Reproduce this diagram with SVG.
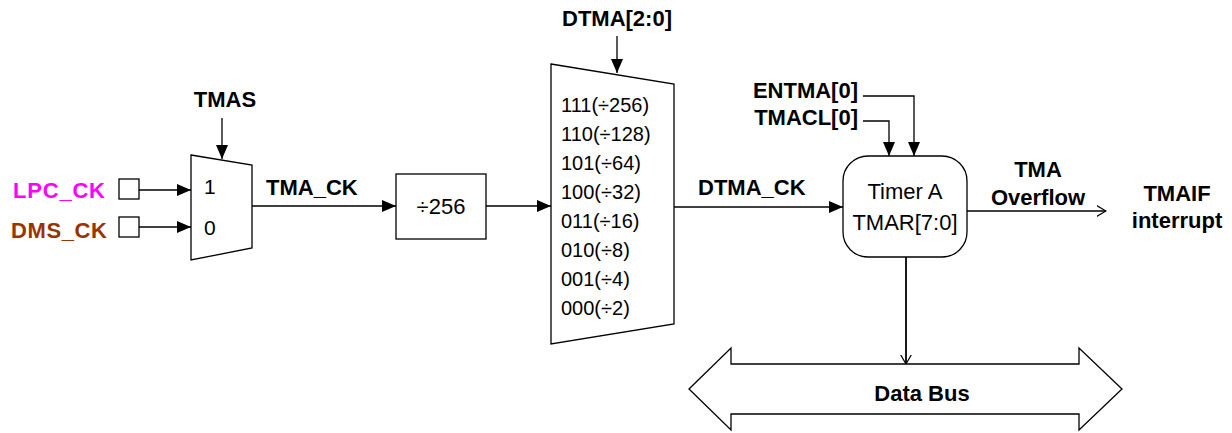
<svg xmlns="http://www.w3.org/2000/svg" width="1232" height="433" viewBox="0 0 1232 433">
<style>
.ln{fill:none;stroke:#000;stroke-width:1.3}
.sh{fill:#fff;stroke:#000;stroke-width:1.3}
.b{font-family:"Liberation Sans",Arial,sans-serif;font-weight:bold;font-size:22px;fill:#000}
.r{font-family:"Liberation Sans",Arial,sans-serif;font-size:22px;fill:#000}
.s{font-family:"Liberation Sans",Arial,sans-serif;font-size:20px;fill:#000}
</style>
<defs>
<marker id="fa" viewBox="0 0 14 12" refX="14" refY="6" markerWidth="14" markerHeight="12" markerUnits="userSpaceOnUse" orient="auto"><path d="M0,0 L14,6 L0,12 Z" fill="#000"/></marker>
<marker id="oa" viewBox="0 0 10 12" refX="9.5" refY="6" markerWidth="10" markerHeight="12" markerUnits="userSpaceOnUse" orient="auto"><path d="M0,0.5 L9.5,6 L0,11.5" fill="none" stroke="#000" stroke-width="1.2"/></marker>
</defs>
<g id="connectors">
<line class="ln" x1="222" y1="118" x2="222" y2="159" marker-end="url(#fa)"/>
<line class="ln" x1="139" y1="190" x2="191" y2="190" marker-end="url(#fa)"/>
<line class="ln" x1="139" y1="227" x2="191" y2="227" marker-end="url(#fa)"/>
<line class="ln" x1="252" y1="206" x2="396" y2="206" marker-end="url(#fa)"/>
<line class="ln" x1="486" y1="206" x2="551" y2="206" marker-end="url(#fa)"/>
<line class="ln" x1="617" y1="36" x2="617" y2="73" marker-end="url(#fa)"/>
<line class="ln" x1="674" y1="207" x2="843" y2="207" marker-end="url(#fa)"/>
<polyline class="ln" points="863,96 914,96 914,156" marker-end="url(#fa)"/>
<polyline class="ln" points="863,121 889,121 889,156" marker-end="url(#fa)"/>
<line class="ln" x1="967" y1="211" x2="1106" y2="211" marker-end="url(#oa)"/>
<line class="ln" x1="906" y1="257" x2="906" y2="364" marker-end="url(#oa)" style="stroke-width:1.8"/>
</g>
<g id="lpc_ck">
<rect class="sh" x="119" y="179" width="20" height="20"/>
<text class="b" x="105" y="198" text-anchor="end" textLength="92" style="fill:#FF00FF">LPC_CK</text>
</g>
<g id="dms_ck">
<rect class="sh" x="119" y="217" width="20" height="20"/>
<text class="b" x="107" y="238" text-anchor="end" textLength="96" style="fill:#993300">DMS_CK</text>
</g>
<g id="tmas">
<text class="b" x="225" y="107" text-anchor="middle">TMAS</text>
</g>
<g id="mux1">
<polygon class="sh" points="191,155 252,165 252,248 191,260"/>
<text class="r" x="204" y="194" style="font-size:21px">1</text>
<text class="r" x="204" y="235" style="font-size:21px">0</text>
</g>
<g id="tma_ck_label">
<text class="b" x="266" y="195">TMA_CK</text>
</g>
<g id="div256">
<rect class="sh" x="396" y="174" width="90" height="65"/>
<text class="r" x="441" y="214" text-anchor="middle">÷256</text>
</g>
<g id="dtma">
<text class="b" x="617" y="26" text-anchor="middle">DTMA[2:0]</text>
</g>
<g id="mux2">
<polygon class="sh" points="551,64 674,84 674,324 551,344"/>
<text class="s" x="561" y="112">111(÷256)</text>
<text class="s" x="561" y="141">110(÷128)</text>
<text class="s" x="561" y="170">101(÷64)</text>
<text class="s" x="561" y="199">100(÷32)</text>
<text class="s" x="561" y="228">011(÷16)</text>
<text class="s" x="561" y="257">010(÷8)</text>
<text class="s" x="561" y="286">001(÷4)</text>
<text class="s" x="561" y="315">000(÷2)</text>
</g>
<g id="dtma_ck_label">
<text class="b" x="698" y="195">DTMA_CK</text>
</g>
<g id="entma">
<text class="b" x="858" y="98" text-anchor="end">ENTMA[0]</text>
</g>
<g id="tmacl">
<text class="b" x="858" y="125" text-anchor="end">TMACL[0]</text>
</g>
<g id="timer_a">
<rect class="sh" x="843" y="156" width="124" height="101" rx="25" ry="25"/>
<text class="r" x="905" y="199" text-anchor="middle">Timer A</text>
<text class="r" x="905" y="230" text-anchor="middle">TMAR[7:0]</text>
</g>
<g id="tma_overflow">
<text class="b" x="1038" y="177" text-anchor="middle">TMA</text>
<text class="b" x="1038" y="205" text-anchor="middle">Overflow</text>
</g>
<g id="tmaif">
<text class="b" x="1177" y="201" text-anchor="middle">TMAIF</text>
<text class="b" x="1177" y="228" text-anchor="middle">interrupt</text>
</g>
<g id="data_bus">
<polygon class="sh" points="689,389 731,348 731,364 1079,364 1079,348 1122,389 1079,430 1079,414 731,414 731,430"/>
<text class="b" x="922" y="401" text-anchor="middle">Data Bus</text>
</g>
</svg>
